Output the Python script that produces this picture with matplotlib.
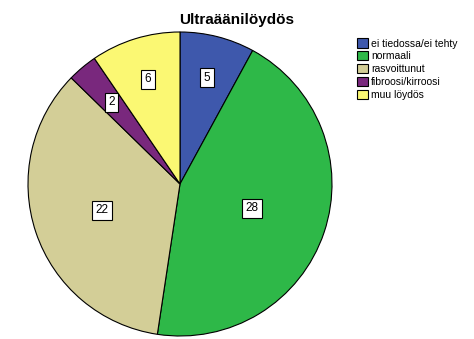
import numpy as np
import matplotlib
matplotlib.use("Agg")
import matplotlib.pyplot as plt

categories = ["ei tiedossa/ei tehty", "normaali", "rasvoittunut", "fibroosi/kirroosi", "muu löydös"]
counts = [5, 28, 22, 2, 6]
colors = ["#3e58ac", "#2eb848", "#d3ce97", "#79287d", "#fbf873"]
label_radius = [0.72, 0.5, 0.54, 0.7, 0.72]

plt.rcParams["font.family"] = ["Liberation Sans", "DejaVu Sans"]

fig = plt.figure(figsize=(4.74, 3.39), dpi=100)
W, H = 474, 339
cx, cy, r = 180, 184, 152
ax = fig.add_axes([(cx - r) / W, (H - cy - r) / H, 2 * r / W, 2 * r / H])

wedges, _ = ax.pie(
    counts,
    colors=colors,
    startangle=90,
    counterclock=False,
    radius=1.0,
    wedgeprops=dict(edgecolor="black", linewidth=0.8),
)
ax.set_xlim(-1, 1)
ax.set_ylim(-1, 1)
ax.set_aspect("equal")
ax.axis("off")

for w, val, rr in zip(wedges, counts, label_radius):
    ang = np.deg2rad((w.theta1 + w.theta2) / 2)
    ax.text(rr * np.cos(ang), rr * np.sin(ang), str(val), ha="center", va="center",
            fontsize=8.5,
            bbox=dict(boxstyle="square,pad=0.3", facecolor="white", edgecolor="black", linewidth=0.8))

fig.text(0.5, 1 - 20 / H, "Ultraäänilöydös", ha="center", va="center",
         fontsize=11, fontweight="bold")

leg = fig.legend(wedges, categories, loc="upper left", bbox_to_anchor=(350 / W, 1 - 31 / H),
                 frameon=False, fontsize=7.5, handlelength=1.0, handleheight=1.0,
                 handletextpad=0.3, labelspacing=0.25, borderpad=0.2)

fig.savefig("out.png", dpi=100)
